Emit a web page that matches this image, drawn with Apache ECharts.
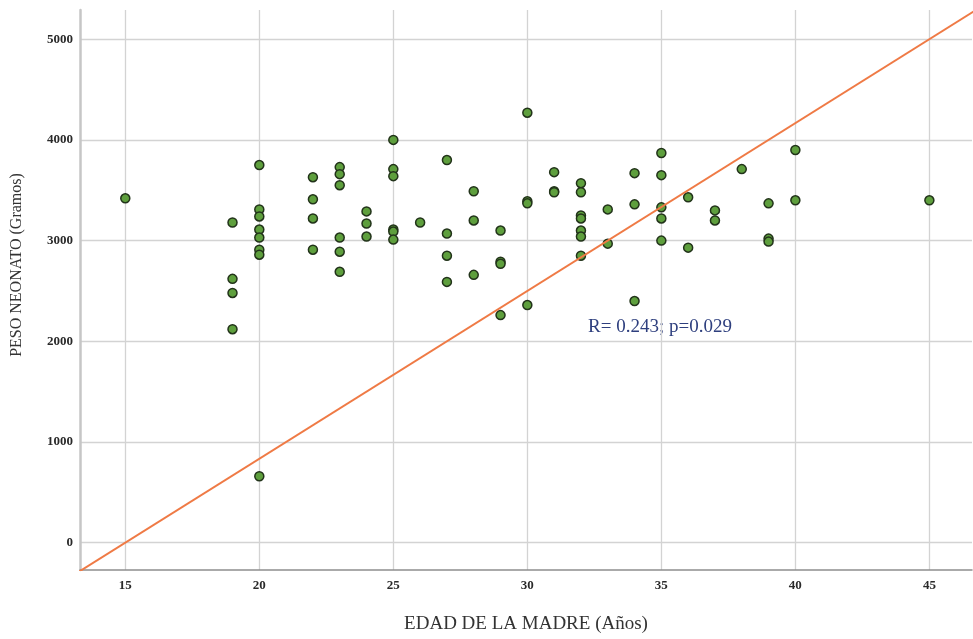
<!DOCTYPE html>
<html>
<head>
<meta charset="utf-8">
<script src="https://cdn.jsdelivr.net/npm/echarts@6/dist/echarts.min.js"></script>
<style>html,body{margin:0;padding:0;background:#fff;}#c{width:973px;height:639px;}</style>
</head>
<body>
<div id="c"></div>
<script>
// Data
const edad = [15,
  19,19,19,19,
  20,20,20,20,20,20,20,20,
  22,22,22,22,
  23,23,23,23,23,23,
  24,24,24,
  25,25,25,25,25,25,
  26,
  27,27,27,27,
  28,28,28,
  29,29,29,29,
  30,30,30,30,
  31,31,31,
  32,32,32,32,32,32,32,
  33,33,
  34,34,34,
  35,35,35,35,35,
  36,36,
  37,37,
  38,
  39,39,39,
  40,40,
  45];
const peso = [3420,
  3180,2620,2480,2120,
  3750,3310,3240,3110,3030,2910,2860,660,
  3630,3410,3220,2910,
  3730,3660,3550,3030,2890,2690,
  3290,3170,3040,
  4000,3710,3640,3110,3090,3010,
  3180,
  3800,3070,2850,2590,
  3490,3200,2660,
  3100,2790,2770,2260,
  4270,3390,3370,2360,
  3680,3490,3480,
  3570,3480,3250,3220,3100,3040,2850,
  3310,2970,
  3670,3360,2400,
  3870,3650,3330,3220,3000,
  3430,2930,
  3300,3200,
  3710,
  3370,3020,2990,
  3900,3400,
  3400];
const lineX = [13, 47];
const lineY = [-333, 5333];
const xTicks = [15, 20, 25, 30, 35, 40, 45];
const yTicks = [0, 1000, 2000, 3000, 4000, 5000];
const annotation = 'R= 0.243; p=0.029';

const FONT = 'Liberation Serif, Times New Roman, serif';
const chart = echarts.init(document.getElementById('c'), null, {renderer: 'canvas'});

const gridMarks = xTicks.map(v => ({xAxis: v})).concat(yTicks.map(v => ({yAxis: v})));

chart.setOption({
  animation: false,
  backgroundColor: '#ffffff',
  grid: {left: 80, right: 1, top: 10, bottom: 67},
  xAxis: {
    type: 'value', min: 13.31, max: 46.59,
    axisLine: {show: true, onZero: false, lineStyle: {color: '#8f8f8f', width: 1.5}},
    axisTick: {show: false},
    splitLine: {show: false},
    axisLabel: {customValues: xTicks, formatter: v => String(v), margin: 9, fontSize: 13, fontWeight: 'bold', color: '#2a2a2a', fontFamily: FONT},
    name: 'EDAD DE LA MADRE (Años)', nameLocation: 'middle', nameGap: 45,
    nameTextStyle: {fontSize: 19, color: '#333', fontFamily: FONT}
  },
  yAxis: {
    type: 'value', min: -271, max: 5290,
    axisLine: {show: true, onZero: false, lineStyle: {color: '#c6c6c6', width: 2.5}},
    axisTick: {show: false},
    splitLine: {show: false},
    axisLabel: {customValues: yTicks, formatter: v => String(v), margin: 7, fontSize: 13, fontWeight: 'bold', color: '#2a2a2a', fontFamily: FONT}
  },
  graphic: [
    {type: 'text', x: 17, y: 265, rotation: Math.PI / 2,
     style: {text: 'PESO NEONATO (Gramos)', font: '16px ' + FONT, fill: '#333', align: 'center', verticalAlign: 'middle'}},
    {type: 'text', left: 588, top: 318,
     style: {text: annotation, font: '19px ' + FONT, fill: '#2e3f7e'}}
  ],
  series: [
    {
      type: 'line', data: [], z: 0, silent: true,
      markLine: {silent: true, z: 0, symbol: ['none', 'none'], label: {show: false},
        lineStyle: {color: '#d3d3d3', width: 1.3, type: 'solid'}, data: gridMarks, animation: false}
    },
    {
      type: 'scatter', z: 6,
      data: edad.map((a, i) => [a, peso[i]]),
      symbolSize: 9,
      itemStyle: {color: '#5e9f3d', borderColor: '#22331a', borderWidth: 1.5, opacity: 1}
    },
    {
      type: 'line', z: 7, symbol: 'none', silent: true,
      data: lineX.map((x, i) => [x, lineY[i]]),
      lineStyle: {color: '#ef7a45', width: 2}
    }
  ]
});
</script>
</body>
</html>
